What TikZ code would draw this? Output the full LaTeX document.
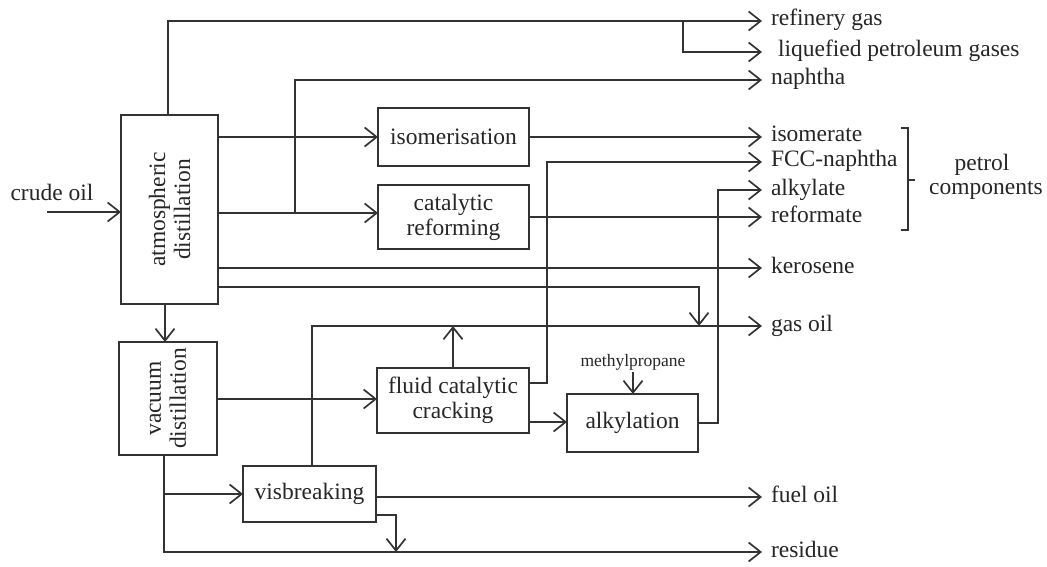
\documentclass[tikz,border=0pt]{standalone}
\usepackage{fontspec}
\setmainfont{Liberation Serif}
\usetikzlibrary{arrows.meta}
\newcommand{\fs}{\fontsize{23.5}{25}\selectfont}
\newcommand{\fsm}{\fontsize{17.5}{19}\selectfont}
\begin{document}
\begin{tikzpicture}[x=1pt,y=-1pt, line width=1.7pt, draw=black!80, text=black!85,
  box/.style={draw, inner sep=0pt, outer sep=0pt, font=\fs, align=center},
  vtext/.style={rotate=90, font=\fs, align=center, inner sep=0pt},
  lab/.style={anchor=west, inner sep=0pt, outer sep=0pt, font=\fs, text height=10pt, text depth=0pt},
  arr/.style={-{Straight Barb[length=12pt,width=19pt,line width=1.7pt]}}]
\useasboundingbox (0,0) rectangle (1047,567);

% process boxes
\node[box, minimum width=97pt, minimum height=189pt] (atm) at (169.5,209.5) {};
\node[vtext] (atmt) at (atm.center) {atmospheric\\distillation};
\node[box, minimum width=98pt, minimum height=113pt] (vac) at (168,398.5) {};
\node[vtext] (vact) at (vac.center) {vacuum\\distillation};
\node[box, minimum width=151pt, minimum height=58pt] (iso) at (453.5,137) {isomerisation};
\node[box, minimum width=151pt, minimum height=64pt] (cat) at (453.5,217) {catalytic\\reforming};
\node[box, minimum width=152pt, minimum height=65pt] (fcc) at (453,400.5) {fluid catalytic\\cracking};
\node[box, minimum width=131pt, minimum height=58pt] (alk) at (632.5,423) {alkylation};
\node[box, minimum width=133pt, minimum height=56pt] (vis) at (309.5,494) {visbreaking};

% product labels
\node[lab] (rg)    at (771,21)  {refinery gas};
\node[lab] (lpg)   at (778,52)  {liquefied petroleum gases};
\node[lab] (nap)   at (771,80)  {naphtha};
\node[lab] (isom)  at (771,137) {isomerate};
\node[lab] (fccn)  at (771,162) {FCC-naphtha};
\node[lab] (alky)  at (771,190) {alkylate};
\node[lab] (refo)  at (771,217) {reformate};
\node[lab] (kero)  at (771,268) {kerosene};
\node[lab] (goil)  at (771,326) {gas oil};
\node[lab] (fuel)  at (771,497) {fuel oil};
\node[lab] (resid) at (771,552) {residue};

\node[font=\fs, inner sep=0pt] (crudet) at (52,192) {crude oil};
\node[font=\fsm, inner sep=1pt] (mp) at (633,362) {methylpropane};
\node[font=\fs, inner sep=0pt] (pct) at (982,165) {petrol};
\node[font=\fs, inner sep=0pt, anchor=north] (pcc) at ([yshift=-4pt]pct.south -| 986,0) {components};

% coordinates
\coordinate (crude) at (47,212);
\coordinate (j1) at (683,21);
\coordinate (j2) at (295,213);
\coordinate (j3) at (699,326);
\coordinate (j4) at (547,383);
\coordinate (j5) at (718,423);
\coordinate (j6) at (164,494);
\coordinate (j7) at (396,552);

% connectors
\draw[arr] (crude) -- (atm.west |- crude);
\draw[arr] (atm.north -| 168,0) |- ([xshift=-9pt]rg.west);
\draw[arr] (j1) |- ([xshift=-16pt]lpg.west);
\draw[arr] (atm.east |- j2) -- (cat.west |- j2);
\draw[arr] (j2) |- ([xshift=-9pt]nap.west);
\draw[arr] (atm.east |- iso.west) -- (iso.west);
\draw[arr] (iso.east) -- ([xshift=-9pt]isom.west);
\draw[arr] (cat.east) -- ([xshift=-9pt]refo.west);
\draw[arr] (atm.east |- kero.west) -- ([xshift=-9pt]kero.west);
\draw[arr] (atm.east |- 0,287) -| (j3);
\draw[arr] (vis.north -| 312,0) |- ([xshift=-9pt]goil.west);
\draw[arr] (fcc.north) -- (fcc.north |- goil.west);
\draw[arr] (fcc.east |- j4) -- (j4) |- ([xshift=-9pt]fccn.west);
\draw[arr] (fcc.east |- 0,422) -- (alk.west |- 0,422);
\draw[arr] (mp.south) -- (alk.north -| mp.south);
\draw[arr] (alk.east) -- (j5) |- ([xshift=-9pt]alky.west);
\draw[arr] (vac.east |- 0,399) -- (fcc.west |- 0,399);
\draw[arr] (atm.south -| 165,0) -- (vac.north -| 165,0);
\draw[arr] (vac.south -| j6) |- ([xshift=-9pt]resid.west);
\draw[arr] (j6) -- (vis.west);
\draw[arr] (vis.east |- fuel.west) -- ([xshift=-9pt]fuel.west);
\draw[arr] (vis.east |- 0,515) -| (j7);

% bracket
\draw (901,128) -- (908,128) -- (908,230) -- (901,230);
\draw (908,180) -- (915,180);
\end{tikzpicture}
\end{document}
